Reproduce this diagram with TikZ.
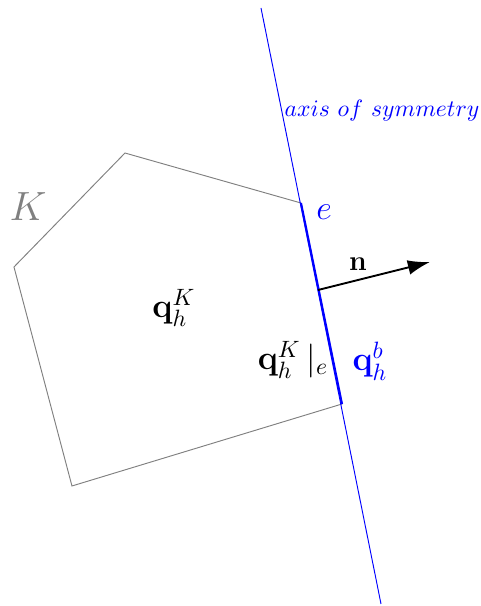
\documentclass[tikz,border=0pt]{standalone}
\usepackage{amsmath,amssymb}
\usepackage{tikz}
\usetikzlibrary{arrows.meta, calc}

\begin{document}
\begin{tikzpicture}[
    elem/.style={draw=gray, line width=0.4pt},
    axisline/.style={draw=blue, line width=0.4pt},
    bdryedge/.style={draw=blue, line width=0.9pt},
    lbl/.style={inner sep=1pt}
]
    \useasboundingbox (0,0) rectangle (7.143,9.018);

    % --- element K ---
    \coordinate (V1) at (1.860, 6.741);
    \coordinate (V2) at (4.479, 5.997);
    \coordinate (V3) at (5.089, 3.006);
    \coordinate (V4) at (1.071, 1.786);
    \coordinate (V5) at (0.208, 5.045);
    \draw[elem] (V1)--(V2)--(V3)--(V4)--(V5)--cycle;

    % --- axis of symmetry ---
    \coordinate (AT) at (3.884, 8.899);
    \coordinate (AB) at (5.670, 0.030);
    \draw[axisline] (AT)--(AB);
    \draw[bdryedge] (V2)--(V3);

    % --- normal ---
    \coordinate (N0) at (4.732, 4.702);
    \coordinate (N1) at (6.399, 5.119);
    \draw[thick, -{Latex[length=3.3mm, width=2.2mm]}] (N0)--(N1);

    % --- labels ---
    \node[lbl, text=gray, font=\LARGE] (lK) at (0.417, 5.938) {$K$};
    \node[lbl, font=\Large] (lqK) at (2.589, 4.435) {$\mathbf{q}_h^K$};
    \node[lbl, text=blue, font=\Large] (le) at (4.821, 5.863) {$e$};
    \node[lbl, font=\large] (ln) at (5.327, 5.080) {$\mathbf{n}$};
    \node[lbl, font=\Large] (lqKe) at (4.360, 3.661) {$\mathbf{q}_h^K\,|_e$};
    \node[lbl, text=blue, font=\Large] (lqb) at (5.506, 3.646) {$\mathbf{q}_h^b$};
    \node[lbl, text=blue] (laxis) at (5.685, 7.366) {$axis\ of\ symmetry$};
\end{tikzpicture}
\end{document}
